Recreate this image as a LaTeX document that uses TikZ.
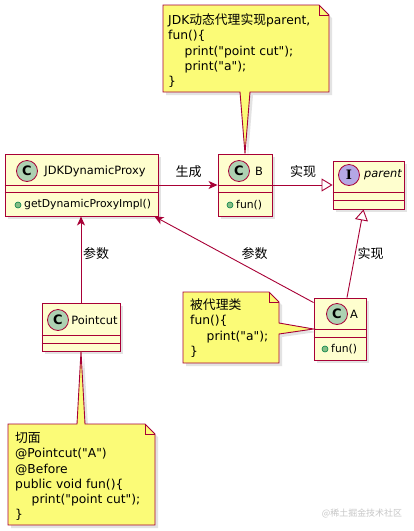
\documentclass[tikz,border=0pt]{standalone}
\usepackage{fontspec}
\setmainfont{DejaVu Sans}[Ligatures=TeXOff]
\newfontfamily\cjk[Scale=1.04]{Noto Sans CJK SC}
\newfontfamily\serifb{DejaVu Serif}
\usetikzlibrary{arrows.meta,shadows,calc}
\definecolor{umlred}{HTML}{A80036}
\definecolor{classbg}{HTML}{FEFECE}
\definecolor{notebg}{HTML}{FBFB77}
\definecolor{cgreen}{HTML}{ADD1B2}
\definecolor{ipurple}{HTML}{B4A7E5}
\definecolor{dotgreen}{HTML}{84BE84}
\definecolor{dotborder}{HTML}{038048}
\newcommand{\fstrut}{\rule{0pt}{11pt}}
\newcommand{\dq}{\char34\relax}
\begin{document}
\begin{tikzpicture}[x=1pt,y=-1pt,
  shad/.style={drop shadow={shadow xshift=3pt,shadow yshift=-3pt,opacity=0.22}},
  cls/.style={draw=umlred,fill=classbg,line width=0.9pt,rectangle,inner sep=0pt,shad},
  sep/.style={draw=umlred,line width=0.9pt},
  circ/.style={circle,draw=umlred,line width=0.8pt,minimum size=21pt,inner sep=0pt,font=\bfseries\fontsize{13}{13}\selectfont},
  cname/.style={inner sep=0pt,font=\fontsize{11.4}{12}\selectfont},
  meth/.style={inner sep=0pt,anchor=west,font=\fontsize{10.8}{12}\selectfont},
  mdot/.style={circle,draw=dotborder,fill=dotgreen,minimum size=6pt,inner sep=0pt,line width=0.6pt},
  note/.style={draw=umlred,fill=notebg,line width=0.9pt,line join=miter,shad},
  fold/.style={draw=umlred,line width=0.9pt},
  notetext/.style={inner sep=0pt,anchor=north west,align=left,font=\fontsize{12.3}{15.2}\selectfont},
  conn/.style={draw=umlred,line width=0.9pt},
  filled/.style={-{Stealth[length=9pt,width=8pt,inset=2.5pt]}},
  realize/.style={-{Triangle[length=11pt,width=13pt,fill=white]}},
  lbl/.style={inner sep=0pt,font=\cjk\fontsize{12.5}{13}\selectfont},
]
\useasboundingbox[fill=white] (0,0) rectangle (414,531);

% classes
\node[cls,minimum width=153pt,minimum height=62pt] (jdk) at (81.5,185) {};
\node[cls,minimum width=54pt,minimum height=62pt] (b) at (245,185) {};
\node[cls,minimum width=71pt,minimum height=48pt] (parent) at (368.5,185) {};
\node[cls,minimum width=52pt,minimum height=62pt] (a) at (340,329) {};
\node[cls,minimum width=78pt,minimum height=48pt] (pc) at (81,327) {};

% separators
\draw[sep] (jdk.west |- 0,185) -- (jdk.east |- 0,185);
\draw[sep] (jdk.west |- 0,192) -- (jdk.east |- 0,192);
\draw[sep] (b.west |- 0,185) -- (b.east |- 0,185);
\draw[sep] (b.west |- 0,192) -- (b.east |- 0,192);
\draw[sep] (parent.west |- 0,192) -- (parent.east |- 0,192);
\draw[sep] (parent.west |- 0,200) -- (parent.east |- 0,200);
\draw[sep] (a.west |- 0,329) -- (a.east |- 0,329);
\draw[sep] (a.west |- 0,337) -- (a.east |- 0,337);
\draw[sep] (pc.west |- 0,335) -- (pc.east |- 0,335);
\draw[sep] (pc.west |- 0,343) -- (pc.east |- 0,343);

% headers and members
\node[circ,fill=cgreen] (jdkc) at (27,171) {C};
\node[cname] (jdkn) at (95,171) {JDKDynamicProxy};
\node[mdot] (jdkd) at (18,205) {};
\node[meth] (jdkm) at (24,205) {getDynamicProxyImpl()};

\node[circ,fill=cgreen] (bc) at (239,171) {C};
\node[cname] (bn) at (259,171) {B};
\node[mdot] (bd) at (230,205) {};
\node[meth] (bm) at (236,205) {fun()};

\node[circ,fill=ipurple,font=\serifb\bfseries\fontsize{13}{13}\selectfont] (pic) at (349,175) {I};
\node[cname,font=\itshape\fontsize{11.4}{12}\selectfont] (pn) at (383,175) {parent};

\node[circ,fill=cgreen] (ac) at (337,314) {C};
\node[cname] (an) at (354,314) {A};
\node[mdot] (ad) at (325,349) {};
\node[meth] (am) at (331,349) {fun()};

\node[circ,fill=cgreen] (pcc) at (58,320) {C};
\node[cname] (pcn) at (94.5,320) {Pointcut};

% connectors
\draw[conn,filled] (jdk.east) -- (b.west);
\draw[conn,realize] (b.east) -- (parent.west);
\draw[conn,realize] ($(a.north)+(7,0)$) -- ($(parent.south)+(-5,0)$);
\draw[conn,filled] ($(a.north west)+(0,5)$) -- ($(jdk.south east)+(-4,0)$);
\draw[conn,filled] (pc.north) -- (pc.north |- jdk.south);

% labels
\node[lbl] (l1) at (188.5,172) {生成};
\node[lbl] (l2) at (303,172) {实现};
\node[lbl] (l3) at (96,254) {参数};
\node[lbl] (l4) at (254.5,254) {参数};
\node[lbl] (l5) at (370.5,254) {实现};

% notes
\path[note] (163,5) -- (319,5) -- (329,15) -- (329,92) -- (250,92) -- (b.north) -- (240,92) -- (163,92) -- cycle;
\draw[fold] (319,5) -- (319,15) -- (329,15);
\node[notetext] (n1) at (168,13.5) {\fstrut JDK{\cjk 动态代理实现}parent,\\fun()\{\\\hspace*{16.5pt}print(\dq point cut\dq);\\\hspace*{16.5pt}print(\dq a\dq);\\\}};

\path[note] (183,292) -- (269,292) -- (279,302) -- (279,323) -- (a.west) -- (279,334) -- (279,363) -- (183,363) -- cycle;
\draw[fold] (269,292) -- (269,302) -- (279,302);
\node[notetext] (n2) at (190,298.5) {\fstrut{\cjk 被代理类}\\fun()\{\\\hspace*{16.5pt}print(\dq a\dq);\\\}};

\path[note] (8,424) -- (77,424) -- (pc.south) -- (85,424) -- (145,424) -- (155,434) -- (155,525) -- (8,525) -- cycle;
\draw[fold] (145,424) -- (145,434) -- (155,434);
\node[notetext] (n3) at (15,431.5) {\fstrut{\cjk 切面}\\@Pointcut(\dq A\dq)\\@Before\\public void fun()\{\\\hspace*{16.5pt}print(\dq point cut\dq);\\\}};

% watermark
\node[inner sep=0pt,font=\cjk\fontsize{8.6}{9}\selectfont,text=black!22] (wm) at (362,513) {@稀土掘金技术社区};
\end{tikzpicture}
\end{document}
